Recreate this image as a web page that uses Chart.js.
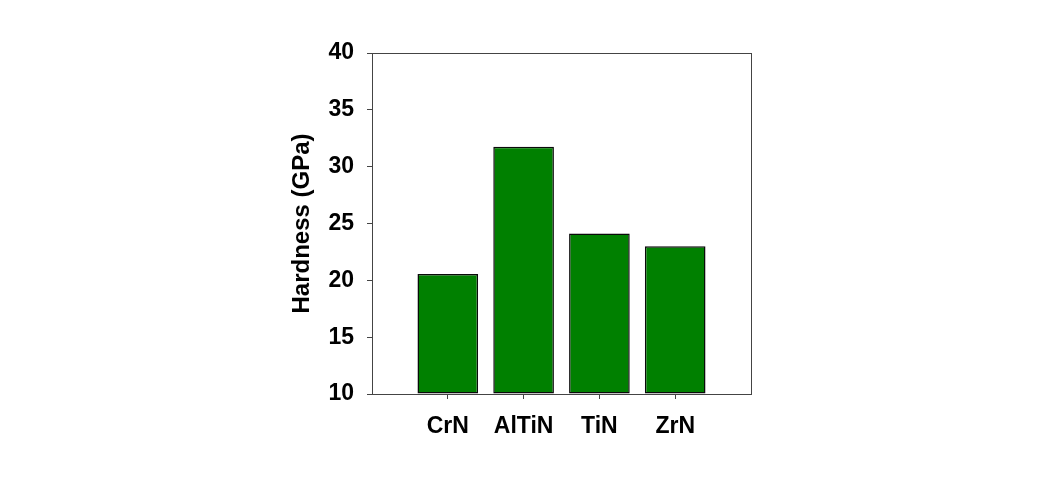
<!DOCTYPE html>
<html>
<head>
<meta charset="utf-8">
<script src="https://cdn.jsdelivr.net/npm/chart.js@4/dist/chart.umd.min.js"></script>
<style>
  html, body { margin: 0; padding: 0; background: #fff; }
  #chart { display: block; }
</style>
</head>
<body>
<canvas id="chart" width="1050" height="480"></canvas>
<script>
// Coating hardness values
const coatings = ['CrN', 'AlTiN', 'TiN', 'ZrN'];
const hardness = [20.55, 31.75, 24.13, 23.0];
const yTicks = [10, 15, 20, 25, 30, 35, 40];

// empty slot on each side so the bars sit at positions 1..4 of 0..5
const labels = [''].concat(coatings, ['']);
const values = [null].concat(hardness, [null]);

const FAMILY = '"Liberation Sans", Arial, sans-serif';
const TICK_FONT = { family: FAMILY, size: 23, weight: 'bold' };
const TITLE_FONT = { family: FAMILY, size: 24, weight: 'bold' };
const AXIS_COLOR = '#444444';

// draws the box round the plot area
const frame = {
    id: 'frame',
    afterDatasetsDraw(chart) {
        const a = chart.chartArea;
        const ctx = chart.ctx;
        ctx.save();
        ctx.strokeStyle = AXIS_COLOR;
        ctx.lineWidth = 1;
        ctx.strokeRect(Math.round(a.left) + 0.5, Math.round(a.top) + 0.5,
            Math.round(a.right - a.left), Math.round(a.bottom - a.top));
        ctx.restore();
    }
};

new Chart(document.getElementById('chart').getContext('2d'), {
    type: 'bar',
    data: {
        labels: labels,
        datasets: [{
            label: 'Hardness',
            data: values,
            base: yTicks[0], // bars start at the axis floor, not at 0
            backgroundColor: '#008000',
            borderColor: '#0a0a0a',
            borderWidth: 1.5,
            borderSkipped: false,
            categoryPercentage: 1.0,
            barPercentage: 0.8
        }]
    },
    options: {
        responsive: false,
        animation: false,
        layout: { padding: { left: 288, right: 299, top: 53, bottom: 36 } },
        plugins: {
            legend: { display: false },
            tooltip: { enabled: false }
        },
        scales: {
            x: {
                type: 'category',
                offset: false,
                afterFit: s => { s.height = 50; },
                border: { display: false },
                grid: {
                    offset: false,
                    drawOnChartArea: false,
                    drawTicks: true,
                    tickLength: 5,
                    tickWidth: 1,
                    tickColor: c => (c.index > 0 && c.index < labels.length - 1) ? AXIS_COLOR : 'rgba(0,0,0,0)'
                },
                ticks: { color: '#000', font: TICK_FONT, padding: 14, maxRotation: 0, autoSkip: false }
            },
            y: {
                min: 10,
                max: 40,
                afterFit: s => { s.width = 84; },
                afterBuildTicks: s => { s.ticks = yTicks.map(v => ({ value: v })); },
                border: { display: false },
                grid: {
                    drawOnChartArea: false,
                    drawTicks: true,
                    tickLength: 5,
                    tickColor: AXIS_COLOR
                },
                ticks: { color: '#000', font: TICK_FONT, padding: 13 },
                title: {
                    display: true,
                    text: 'Hardness (GPa)',
                    color: '#000',
                    font: TITLE_FONT,
                    padding: 0
                }
            }
        }
    },
    plugins: [frame]
});
</script>
</body>
</html>
